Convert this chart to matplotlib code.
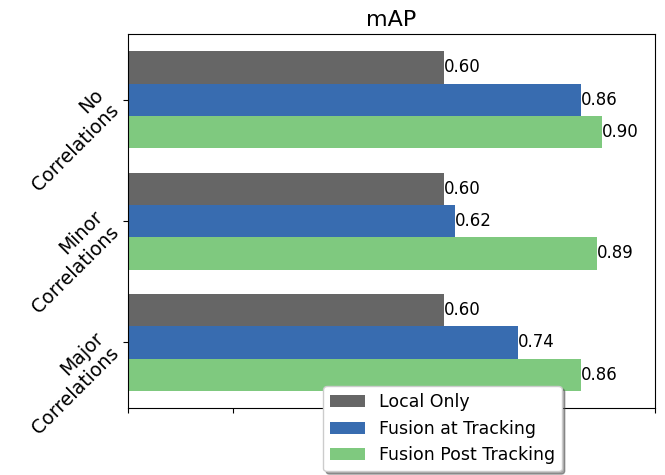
import matplotlib
matplotlib.use("Agg")
import matplotlib.pyplot as plt
import numpy as np

categories = ["No\nCorrelations", "Minor\nCorrelations", "Major\nCorrelations"]
series = ["Local Only", "Fusion at Tracking", "Fusion Post Tracking"]
local_only = [0.60, 0.60, 0.60]
fusion_tracking = [0.86, 0.62, 0.74]
fusion_post = [0.90, 0.89, 0.86]
colors = ["#666666", "#386cb0", "#7fc97f"]

fig = plt.figure(figsize=(6.65, 4.75), dpi=100)
ax = fig.add_axes([0.1925, 0.141, 0.7925, 0.787])

y = np.arange(len(categories))
h = 0.8 / 3
for i, (name, vals) in enumerate(zip(series, [local_only, fusion_tracking, fusion_post])):
    pos = y + (i - 1) * h
    ax.barh(pos, vals, height=h, color=colors[i], label=name)
    for p, v in zip(pos, vals):
        ax.text(v, p, "%.2f" % v, ha="left", va="center", fontsize=12)

ax.set_yticks(y)
ax.set_yticklabels(categories, rotation=45, ha="right", va="center",
                   rotation_mode="anchor", fontsize=13.6)
ax.tick_params(axis="y", pad=11)
ax.invert_yaxis()
ax.set_xlim(0, 1)
ax.set_xticks([0, 0.2, 0.4, 0.6, 0.8, 1.0])
ax.tick_params(axis="x", labelbottom=False)
ax.set_title("mAP", fontsize=16)
ax.legend(loc="upper center", bbox_to_anchor=(0.597, 0.082), shadow=True,
          fontsize=12.5, framealpha=1)

fig.savefig("out.png", dpi=100)
